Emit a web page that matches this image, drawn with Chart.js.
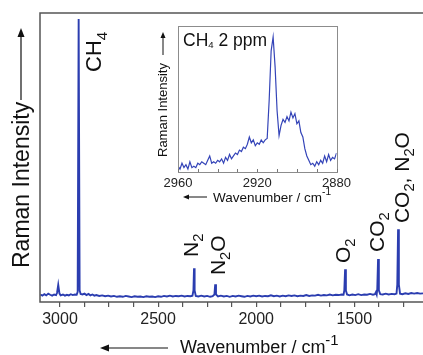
<!DOCTYPE html>
<html><head><meta charset="utf-8">
<script src="https://cdn.jsdelivr.net/npm/chart.js@4.4.0/dist/chart.umd.min.js"></script>
<style>
html,body{margin:0;padding:0;background:#fff;overflow:hidden;}
#wrap{position:relative;width:423px;height:355px;}
#main{position:absolute;left:0;top:0;}
#inset{position:absolute;left:145px;top:20px;}
</style></head><body>
<div id="wrap">
<canvas id="main" width="423" height="355"></canvas>
<canvas id="inset" width="210" height="190"></canvas>
</div>
<script>
// ---------- DATA ----------
const mainWavenumbers = [
  3100,3090,3080,3070,3060,3050,3040,3030,3020,3015,
  3009,3003,2997,2985,2975,2965,2955,2945,2935,2925,
  2915,2910,2905,2900,2895,2885,2875,2865,2855,2845,
  2835,2825,2815,2800,2785,2770,2755,2740,2725,2710,
  2695,2680,2665,2650,2635,2620,2605,2590,2575,2560,
  2545,2530,2515,2500,2485,2470,2455,2440,2425,2410,
  2395,2380,2365,2350,2335,2325,2320,2317,2314,2308,
  2295,2280,2265,2250,2235,2222,2213,2209,2205,2195,
  2180,2165,2150,2135,2120,2105,2090,2075,2060,2045,
  2030,2015,2000,1985,1970,1955,1940,1925,1910,1895,
  1880,1865,1850,1835,1820,1805,1790,1775,1760,1745,
  1730,1715,1700,1685,1670,1655,1640,1625,1610,1595,
  1580,1565,1555,1551,1547,1543,1537,1525,1510,1495,
  1480,1465,1450,1435,1420,1405,1395,1390,1386,1383,
  1379,1375,1368,1355,1340,1325,1310,1295,1285,1281,
  1277,1273,1267,1255,1240,1225,1210,1195,1180,1165,
  1150
];
const mainIntensity = [
  2.6,2.2,2.7,2.3,2.9,2.5,2.2,2.6,2.4,3.2,
  5.9,3.0,2.3,2.6,2.2,2.5,2.3,2.7,2.4,2.6,
  2.5,3.5,97.9,4.0,2.8,2.6,2.9,2.4,2.8,2.3,
  2.6,2.2,2.4,2.1,2.3,2.0,2.2,1.9,2.1,1.8,
  2.0,1.8,2.1,1.9,1.7,2.0,1.8,1.9,1.7,2.0,
  1.8,1.9,1.7,2.0,1.8,2.1,1.9,2.2,1.9,2.1,
  2.0,2.2,1.9,2.1,2.0,2.2,4.0,11.7,4.0,2.1,
  1.9,2.2,1.9,2.1,1.8,2.0,2.6,6.1,2.6,1.9,
  2.2,1.9,2.1,1.8,2.1,1.9,2.2,2.0,1.8,2.1,
  1.9,2.2,2.0,2.2,1.9,2.1,2.0,2.3,2.0,2.2,
  1.9,2.2,2.0,2.3,2.1,2.3,2.0,2.2,2.1,2.4,
  2.1,2.3,2.2,2.5,2.2,2.4,2.3,2.6,2.3,2.5,
  2.4,2.6,2.5,4.0,11.3,4.0,2.6,2.3,2.6,2.4,
  2.7,2.4,2.6,2.5,2.8,2.5,2.7,3.4,2.6,4.5,
  14.9,4.0,2.7,2.6,2.9,2.6,2.8,2.7,2.9,6.0,
  25.2,6.0,2.9,2.7,3.0,2.8,3.1,2.9,3.1,2.9,
  3.0
];
const mainTickValues = [3000,2875,2750,2625,2500,2375,2250,2125,2000,1875,1750,1625,1500,1375,1250];
const mainTickLabels = [3000,2500,2000,1500];

const insetWavenumbers = [
  2960,2959,2958,2957,2956,2955,2954,2953,2952,2951,
  2950,2949,2948,2947,2946,2945,2944,2943,2942,2941,
  2940,2939,2938,2937,2936,2935,2934,2933,2932,2931,
  2930,2929,2928,2927,2926,2925,2924,2923,2922,2921,
  2920,2919,2918,2917,2916,2915,2914,2913,2912,2911,
  2910,2909,2908,2907,2906,2905,2904,2903,2902,2901,
  2900,2899,2898,2897,2896,2895,2894,2893,2892,2891,
  2890,2889,2888,2887,2886,2885,2884,2883,2882,2881,
  2880
];
const insetIntensity = [
  4,2,6,3,5,2,7,3,4,3,
  6,5,7,6,5,8,11,6,7,6,
  8,7,9,6,10,8,12,9,11,13,
  12,15,14,17,16,19,24,20,22,18,
  20,19,22,20,22,23,49,83,92.5,72,
  42,25,32,36,34,38,35,41,37,40,
  33,35,27,24,16,11,8,5,6,4,
  7,5,8,6,11,7,12,8,10,9,
  13
];
const insetTickValues = [2960,2950,2940,2930,2920,2910,2900,2890,2880];
const insetTickLabels = [2960,2920,2880];

// peak annotations (anchored in data coordinates: wavenumber, intensity)
const peakLabels = [
  {parts:[['CH',0],['4',1]], wave:2791, value:79.6, size:22},
  {parts:[['N',0],['2',1]], wave:2297, value:15.6, size:21},
  {parts:[['N',0],['2',1],['O',0]], wave:2159, value:9.3, size:21},
  {parts:[['O',0],['2',1]], wave:1523, value:13.5, size:21},
  {parts:[['CO',0],['2',1]], wave:1349, value:17.3, size:21},
  {parts:[['CO',0],['2',1],[', N',0],['2',1],['O',0]], wave:1222, value:27.3, size:21}
];

// ---------- HELPERS ----------
const FONT = "'Liberation Sans', Arial, Helvetica, sans-serif";
function drawRich(ctx, x, y, parts, size, angle, opt) {
  opt = opt || {};
  const subS = opt.subScale ?? 0.7, subDy = opt.subDy ?? 0.25;
  const supS = opt.supScale ?? 0.83, supDy = opt.supDy ?? -0.44;
  ctx.save();
  ctx.translate(x, y); ctx.rotate(angle);
  ctx.fillStyle = opt.color || '#111';
  ctx.textBaseline = 'alphabetic'; ctx.textAlign = 'left';
  let cx = 0;
  for (const [t, k] of parts) {
    let s = size, dy = 0;
    if (k === 1) { s = size * subS; dy = size * subDy; }
    else if (k === 2) { s = size * supS; dy = size * supDy; }
    ctx.font = s + 'px ' + FONT;
    ctx.fillText(t, cx, dy);
    cx += ctx.measureText(t).width;
  }
  ctx.restore();
}
function arrow(ctx, x1, y1, x2, y2, hl, hw, color, lw) {
  const ang = Math.atan2(y2 - y1, x2 - x1);
  ctx.save();
  ctx.strokeStyle = color; ctx.fillStyle = color; ctx.lineWidth = lw;
  ctx.beginPath(); ctx.moveTo(x1, y1);
  ctx.lineTo(x2 - Math.cos(ang) * hl * 0.8, y2 - Math.sin(ang) * hl * 0.8); ctx.stroke();
  ctx.translate(x2, y2); ctx.rotate(ang);
  ctx.beginPath(); ctx.moveTo(0, 0); ctx.lineTo(-hl, -hw); ctx.lineTo(-hl, hw); ctx.closePath(); ctx.fill();
  ctx.restore();
}

// ---------- MAIN CHART ----------
const mainDecor = {
  id: 'mainDecor',
  afterDraw(chart) {
    const {ctx, chartArea: a, scales: {x, y}} = chart;
    ctx.save();
    ctx.strokeStyle = '#555'; ctx.lineWidth = 1.5;
    ctx.beginPath();
    ctx.moveTo(a.right + 2, a.top); ctx.lineTo(a.left, a.top);
    ctx.lineTo(a.left, a.bottom); ctx.lineTo(a.right + 2, a.bottom);
    ctx.stroke();
    peakLabels.forEach(l => drawRich(ctx, x.getPixelForValue(l.wave), y.getPixelForValue(l.value), l.parts, l.size, -Math.PI / 2));
    drawRich(ctx, 29, 268, [['Raman Intensity', 0]], 23, -Math.PI / 2);
    arrow(ctx, 21, 100, 21, 28, 9, 3.5, '#111', 1.2);
    drawRich(ctx, 180, 353, [['Wavenumber / cm', 0], ['-1', 2]], 18, 0);
    arrow(ctx, 168, 348, 100, 348, 9, 3.5, '#111', 1.2);
    ctx.restore();
  }
};

new Chart(document.getElementById('main'), {
  type: 'line',
  data: {datasets: [{
    data: mainWavenumbers.map((w, i) => ({x: w, y: mainIntensity[i]})),
    borderColor: '#2b3db0', borderWidth: 1.9, pointRadius: 0, tension: 0, fill: false
  }]},
  options: {
    responsive: false, animation: false, devicePixelRatio: 1, events: [],
    layout: {padding: {top: 13, right: 0, left: 0, bottom: 0}},
    plugins: {legend: {display: false}, tooltip: {enabled: false}},
    scales: {
      x: {
        type: 'linear', reverse: true, min: 1150, max: 3102,
        afterBuildTicks: s => { s.ticks = mainTickValues.map(v => ({value: v})); },
        afterFit: s => { s.height = 53; },
        grid: {drawOnChartArea: false, drawTicks: true, tickLength: 5, color: '#555', lineWidth: 1.2},
        border: {display: false},
        ticks: {padding: 3, maxRotation: 0, autoSkip: false, color: '#222',
          font: {size: 16, family: FONT},
          callback: v => mainTickLabels.includes(v) ? String(v) : ''}
      },
      y: {
        min: 0, max: 100,
        ticks: {display: false}, grid: {display: false}, border: {display: false},
        afterFit: s => { s.width = 40; }
      }
    }
  },
  plugins: [mainDecor]
});

// ---------- INSET CHART ----------
const insetDecor = {
  id: 'insetDecor',
  afterDraw(chart) {
    const {ctx, chartArea: a, scales: {x}} = chart;
    ctx.save();
    ctx.strokeStyle = '#8c8c8c'; ctx.lineWidth = 1;
    ctx.strokeRect(Math.round(a.left) + 0.5, Math.round(a.top) + 0.5, Math.round(a.right - a.left), Math.round(a.bottom - a.top));
    ctx.strokeStyle = '#777';
    insetTickValues.forEach(v => {
      const px = Math.round(x.getPixelForValue(v)) + 0.5;
      ctx.beginPath(); ctx.moveTo(px, a.bottom); ctx.lineTo(px, a.bottom - 3); ctx.stroke();
    });
    drawRich(ctx, 38, 26, [['CH', 0], ['4', 1], [' 2 ppm', 0]], 17.5, 0, {subScale: 0.55, subDy: 0.12});
    drawRich(ctx, 22, 137, [['Raman Intensity', 0]], 13, -Math.PI / 2);
    arrow(ctx, 18, 35, 18, 12, 6, 2.5, '#111', 1);
    drawRich(ctx, 68, 181.5, [['Wavenumber / cm', 0], ['-1', 2]], 13.5, 0, {supScale: 0.75, supDy: -0.45});
    arrow(ctx, 62, 177, 38, 177, 6, 2.5, '#111', 1);
    ctx.restore();
  }
};

new Chart(document.getElementById('inset'), {
  type: 'line',
  data: {datasets: [{
    data: insetWavenumbers.map((w, i) => ({x: w, y: insetIntensity[i]})),
    borderColor: '#3444b8', borderWidth: 1.2, pointRadius: 0, tension: 0, fill: false
  }]},
  options: {
    responsive: false, animation: false, devicePixelRatio: 1, events: [],
    layout: {padding: {top: 6, right: 14, left: 0, bottom: 0}},
    plugins: {legend: {display: false}, tooltip: {enabled: false}},
    scales: {
      x: {
        type: 'linear', reverse: true, min: 2880, max: 2960,
        afterBuildTicks: s => { s.ticks = insetTickValues.map(v => ({value: v})); },
        afterFit: s => { s.height = 38; },
        grid: {drawOnChartArea: false, drawTicks: false},
        border: {display: false},
        ticks: {padding: 4, maxRotation: 0, autoSkip: false, color: '#222',
          font: {size: 13, family: FONT},
          callback: v => insetTickLabels.includes(v) ? String(v) : ''}
      },
      y: {
        min: 0, max: 100,
        ticks: {display: false}, grid: {display: false}, border: {display: false},
        afterFit: s => { s.width = 33; }
      }
    }
  },
  plugins: [insetDecor]
});
</script>
</body></html>
